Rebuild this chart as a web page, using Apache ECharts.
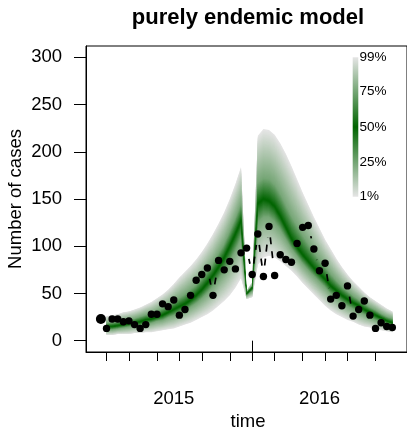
<!DOCTYPE html>
<html><head><meta charset="utf-8">
<script src="https://cdn.jsdelivr.net/npm/echarts@6/dist/echarts.min.js"></script>
<style>html,body{margin:0;padding:0;background:#fff}#c{width:407px;height:431px}</style>
</head><body><div id="c"></div>
<script>
// observed counts (week index relative to first forecast week)
const obsWeeks = [-1,0,1,2,3,4,5,6,7,8,9,10,11,12,13,14,15,16,17,18,19,20,21,22,23,24,25,26,27,28,29,30,31,32,33,34,35,36,37,38,39,40,41,42,43,44,45,46,47,48,49,50,51];
const observed = [23,13,23,23,20,21,17,13,17,28,28,39,36,43,27,33,48,64,70,77,48,85,75,84,76,93,98,70,113,68,121,69,91,86,83,103,120,122,97,74,82,44,48,37,58,26,33,42,27,13,19,15,14];
// forecast quantiles per week
const fanWeeks = [0,1,2,3,4,5,6,7,8,9,10,11,12,13,14,15,16,17,18,19,20,21,22,23,24,25,26,27,28,29,30,31,32,33,34,35,36,37,38,39,40,41,42,43,44,45,46,47,48,49,50,51];
const q01 = [6,6,7,7,7,8,8,9,9,10,11,12,13,15,17,19,22,25,28,32,37,42,48,56,66,44,46,80,88,90,88,84,79,74,68,61,55,49,43,37,32,28,25,22,20,17,15,14,12,11,10,9];
const q25 = [12,12,13,14,15,16,16,18,19,21,22,25,27,30,32,36,40,45,51,58,66,74,84,96,109,48,53,125,131,131,126,118,108,98,90,82,75,69,63,57,50,46,41,37,34,31,28,25,22,20,18,16];
const q50 = [15,15,16,17,18,19,20,22,23,25,27,30,33,36,39,43,48,54,61,69,78,88,100,113,127,50,56,145,150,148,142,132,120,108,99,91,84,77,71,65,58,53,48,44,40,37,33,30,27,24,21,19];
const q75 = [18,19,20,21,22,23,25,27,28,31,34,37,41,45,49,54,59,66,74,82,92,102,115,129,144,51,58,167,172,171,165,155,143,131,121,111,102,93,85,78,70,63,57,52,47,43,39,35,32,28,25,23];
const q99 = [26,27,28,30,31,33,35,38,41,45,49,54,60,67,73,79,86,94,103,113,124,136,150,166,184,53,62,217,224,223,218,209,198,185,171,157,144,131,119,107,97,87,78,70,63,57,51,46,42,38,34,31];
// axis ticks / labels
const yTicks = [0,50,100,150,200,250,300];
const monthTicks = [0,4,9,13,17,22,26,30,35,39,43,48];
const yearTicks = [26];
const yearLabels = ['2015','2016'];
const yearLabelAt = [12,38];
const legendProbs = [99,75,50,25,1];

const FONT = 'Liberation Sans, Arial, sans-serif';
const GREY = [229,229,229], GREEN = [0,100,0];
function mix(c){ // c=0 grey, 1 green
  const r = Math.round(GREY[0]+(GREEN[0]-GREY[0])*c), g = Math.round(GREY[1]+(GREEN[1]-GREY[1])*c), b = Math.round(GREY[2]+(GREEN[2]-GREY[2])*c);
  return 'rgb('+r+','+g+','+b+')';
}
// quantile levels that were read, and their arrays
const qLevels = [1,25,50,75,99];
const qArrays = [q01,q25,q50,q75,q99];
// pixel y of probability p at week index i (shading between read quantile curves)
function yAt(api, i, p){
  let j = 0; while (j < qLevels.length-2 && p > qLevels[j+1]) j++;
  const pa = qLevels[j], pb = qLevels[j+1];
  const a = api.coord([fanWeeks[i], qArrays[j][i]])[1], b = api.coord([fanWeeks[i], qArrays[j+1][i]])[1];
  return a + (b-a)*(p-pa)/(pb-pa);
}
// nested shading layers, outermost first
const shadeLevels = [];
for (let p=1; p<50; p+=0.5) shadeLevels.push(p);

const chart = echarts.init(document.getElementById('c'), null, {renderer:'canvas'});
const XMIN = -3.66, XMAX = 53.62;
const option = {
  animation:false,
  grid:{left:86, top:46, right:-3, bottom:79, show:true, borderColor:'#000', borderWidth:1, backgroundColor:'transparent'},
  xAxis:[{
    type:'value', min:XMIN, max:XMAX, position:'bottom',
    splitLine:{show:false},
    axisLine:{show:true, onZero:false, lineStyle:{color:'#000', width:1}},
    axisTick:{show:true, customValues:monthTicks, length:9, lineStyle:{color:'#000', width:1}},
    axisLabel:{show:true, customValues:yearLabelAt, margin:37, color:'#000', fontSize:18.5, fontFamily:FONT,
      formatter:(v)=>{const i=yearLabelAt.indexOf(v); return i>=0?yearLabels[i]:'';}}
  },{
    type:'value', min:XMIN, max:XMAX, position:'bottom',
    splitLine:{show:false}, axisLine:{show:false},
    axisTick:{show:true, customValues:yearTicks, length:17, lineStyle:{color:'#000', width:1}},
    axisLabel:{show:false}
  }],
  yAxis:{
    type:'value', min:-12, max:312,
    splitLine:{show:false},
    axisLine:{show:true, onZero:false, lineStyle:{color:'#000', width:1}},
    axisTick:{show:true, customValues:yTicks, length:12, lineStyle:{color:'#000', width:1}},
    axisLabel:{show:true, customValues:yTicks, margin:24, color:'#000', fontSize:18.5, fontFamily:FONT}
  },
  series:[
    {
      type:'custom', xAxisIndex:0, yAxisIndex:0, clip:true, silent:true,
      data: shadeLevels.map((p,i)=>[i,0]),
      renderItem:(params, api)=>{
        const p = shadeLevels[params.dataIndex];
        const c = (p-1)/49;
        const top = [], bot = [];
        for(let i=0;i<fanWeeks.length;i++){
          const x = api.coord([fanWeeks[i], 0])[0];
          bot.push([x, yAt(api,i,p)]);
          top.push([x, yAt(api,i,100-p)]);
        }
        const pts = top.concat(bot.reverse());
        return {type:'polygon', shape:{points:pts}, style:{fill:mix(c), stroke:null}};
      }
    },
    {
      type:'custom', xAxisIndex:0, yAxisIndex:0, clip:true, silent:true,
      encode:{x:[0,2], y:[1,3]},
      data: obsWeeks.slice(0,-1).map((w,i)=>[w, observed[i], obsWeeks[i+1], observed[i+1]]),
      renderItem:(params, api)=>{
        const p1 = api.coord([api.value(0), api.value(1)]);
        const p2 = api.coord([api.value(2), api.value(3)]);
        const dx = p2[0]-p1[0], dy = p2[1]-p1[1];
        const d = Math.sqrt(dx*dx+dy*dy);
        const GAP = 11;
        if (d <= 2*GAP) return null;
        const ux = dx/d, uy = dy/d;
        return {type:'line', shape:{x1:p1[0]+ux*GAP, y1:p1[1]+uy*GAP, x2:p2[0]-ux*GAP, y2:p2[1]-uy*GAP},
          style:{stroke:'#000', lineWidth:1.7, lineDash:[7,7], fill:null}};
      }
    },
    {
      type:'scatter', xAxisIndex:0, yAxisIndex:0, silent:true,
      data: obsWeeks.map((w,i)=>[w, observed[i]]),
      symbol:'circle',
      symbolSize:(v, params)=> params.dataIndex===0 ? 10 : 7.4,
      itemStyle:{color:'#000', opacity:1}
    }
  ],
  graphic:[
    {type:'text', x:248, y:17.5, style:{text:'purely endemic model', fontSize:22, fontWeight:'bold', fontFamily:FONT, fill:'#000', align:'center', verticalAlign:'middle'}},
    {type:'text', x:248, y:422, style:{text:'time', fontSize:18.5, fontFamily:FONT, fill:'#000', align:'center', verticalAlign:'middle'}},
    {type:'text', x:16, y:199, rotation:Math.PI/2, style:{text:'Number of cases', fontSize:18.5, fontFamily:FONT, fill:'#000', align:'center', verticalAlign:'middle'}},
    {type:'rect', shape:{x:352.7, y:57.3, width:5.6, height:139.4},
      style:{fill:new echarts.graphic.LinearGradient(0,0,0,1,[{offset:0,color:mix(0)},{offset:0.5,color:mix(1)},{offset:1,color:mix(0)}])}}
  ].concat(legendProbs.map(p=>({type:'text', x:359.5, y:57.3+(99-p)/98*139.4, style:{text:p+'%', fontSize:13.5, fontFamily:FONT, fill:'#000', align:'left', verticalAlign:'middle'}})))
};
chart.setOption(option);
</script></body></html>
